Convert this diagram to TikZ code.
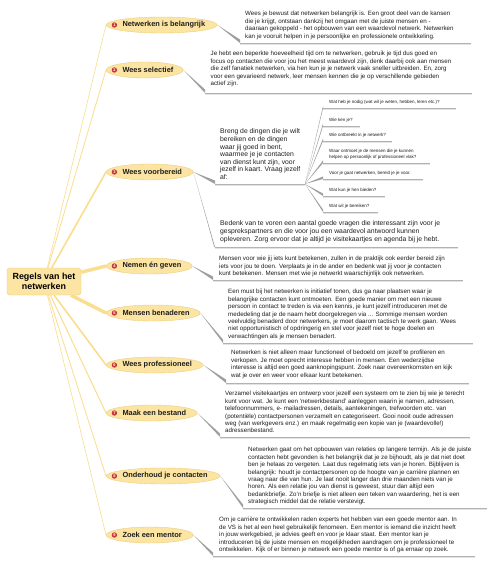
\documentclass[tikz,border=0pt]{standalone}
\usepackage{fontspec}
\setmainfont{Liberation Sans}
\usetikzlibrary{shapes.geometric,positioning}

\definecolor{topicfill}{RGB}{252,229,163}
\definecolor{topicline}{RGB}{238,206,128}
\definecolor{branchcol}{RGB}{250,221,142}
\definecolor{dotred}{RGB}{200,55,55}
\definecolor{inkgray}{RGB}{30,30,30}

\pgfdeclarelayer{background}
\pgfsetlayers{background,main}

\begin{document}
\begin{tikzpicture}[x=1pt, y=1pt,
        rootbox/.style={draw=topicline, fill=topicfill, rounded corners=3pt, align=center, inner sep=0pt,
            minimum width=74pt, minimum height=27pt, font=\fontsize{8.9}{10}\selectfont\bfseries},
        topic/.style={ellipse, draw=topicline, line width=0.4pt, fill=topicfill, minimum height=16pt, inner sep=0pt, anchor=west},
        numdot/.style={circle, fill=dotred, text=white, inner sep=0pt, minimum size=5.4pt, font=\fontsize{4}{4}\selectfont\bfseries},
        topiclabel/.style={inner sep=0pt, text=inkgray, font=\fontsize{7.4}{9}\selectfont\bfseries},
        note/.style={anchor=north west, inner sep=0pt, align=left, text=inkgray, font=\fontsize{6.2}{7.45}\selectfont},
        bignote/.style={note, font=\fontsize{6.8}{7.6}\selectfont},
        smallnote/.style={anchor=south west, inner sep=0pt, align=left, text=inkgray, font=\fontsize{4.5}{6}\selectfont},
        branch/.style={draw=branchcol},
        wedge/.style={fill=gray!75},
        rule/.style={draw=gray!60, line width=0.8pt, preaction={draw=gray!22, line width=1.6pt, transform canvas={yshift=-0.9pt}}}
    ]
        \useasboundingbox (0,0) rectangle (494,-563);

        % centre and main topics
        \node[rootbox] (root) at (44,-281.5) {Regels van het\\netwerken};
        \node[topic, minimum width=111pt] (t1) at (106,-25) {};
        \node[topic, minimum width=77pt] (t2) at (106,-70) {};
        \node[topic, minimum width=87pt] (t3) at (106,-172) {};
        \node[topic, minimum width=86pt] (t4) at (106,-266) {};
        \node[topic, minimum width=94pt] (t5) at (106,-313) {};
        \node[topic, minimum width=97pt] (t6) at (106,-365) {};
        \node[topic, minimum width=91pt] (t7) at (106,-413) {};
        \node[topic, minimum width=114pt] (t8) at (106,-476) {};
        \node[topic, minimum width=87pt] (t9) at (106,-535) {};

        \foreach \i/\txt in {1/Netwerken is belangrijk, 2/Wees selectief, 3/Wees voorbereid,
                4/Nemen én geven, 5/Mensen benaderen, 6/Wees professioneel,
                7/Maak een bestand, 8/Onderhoud je contacten, 9/Zoek een mentor} {
            \node[numdot, right=5.5pt of t\i.west] (n\i) {\i};
            \node[topiclabel, right=5pt of n\i] (l\i) {\txt};
        }

        \begin{pgfonlayer}{background}
            \fill[white] (0,0) rectangle (494,-563);
            \draw[branch, line width=0.6pt] (root) -- (t1.west);
            \draw[branch, line width=0.8pt] (root) -- (t2.west);
            \draw[branch, line width=1.6pt] (root) -- (t3.west);
            \draw[branch, line width=3.4pt] (root) -- (t4.west);
            \draw[branch, line width=3.4pt] (root) -- (t5.west);
            \draw[branch, line width=1.6pt] (root) -- (t6.west);
            \draw[branch, line width=1.0pt] (root) -- (t7.west);
            \draw[branch, line width=0.8pt] (root) -- (t8.west);
            \draw[branch, line width=0.6pt] (root) -- (t9.west);
        \end{pgfonlayer}

        % notes under each topic
        \coordinate (u1) at (240,-43);
        \coordinate (u2) at (205,-93);
        \coordinate (u3) at (215,-184);
        \coordinate (fan) at (305,-184);
        \coordinate (u3b) at (215,-247);
        \coordinate (u4) at (213,-280);
        \coordinate (u5) at (223,-343);
        \coordinate (u6) at (226,-383);
        \coordinate (u7) at (220,-437);
        \coordinate (u8) at (243,-508);
        \coordinate (u9) at (213,-556);

        \fill[wedge] (t1.east) -- ([yshift=3.5pt]u1) -- (u1) -- cycle;
        \fill[wedge] (t2.east) -- ([yshift=3.5pt]u2) -- (u2) -- cycle;
        \fill[wedge] (t3.east) -- ([yshift=3.5pt]u3) -- (u3) -- cycle;
        \fill[wedge] (t3.east) -- ([xshift=-0.8pt]u3b) -- (u3b) -- cycle;
        \fill[wedge] (t4.east) -- ([yshift=3.5pt]u4) -- (u4) -- cycle;
        \fill[wedge] (t5.east) -- ([yshift=3.5pt]u5) -- (u5) -- cycle;
        \fill[wedge] (t6.east) -- ([yshift=3.5pt]u6) -- (u6) -- cycle;
        \fill[wedge] (t7.east) -- ([yshift=3.5pt]u7) -- (u7) -- cycle;
        \fill[wedge] (t8.east) -- ([yshift=3.5pt]u8) -- (u8) -- cycle;
        \fill[wedge] (t9.east) -- ([yshift=3.5pt]u9) -- (u9) -- cycle;

        \draw[rule] (u1) -- (471,-43);
        \draw[rule] (u2) -- (472,-93);
        \draw[rule] (u3) -- (fan);
        \draw[rule] (u3b) -- (458,-247);
        \draw[rule] (u4) -- (463,-280);
        \draw[rule] (u5) -- (473,-343);
        \draw[rule] (u6) -- (469,-383);
        \draw[rule] (u7) -- (470,-437);
        \draw[rule] (u8) -- (487,-508);
        \draw[rule] (u9) -- (475,-556);

        \node[note] (nt1) at (245,-11) {Wees je bewust dat netwerken belangrijk is. Een groot deel van de kansen\\
            die je krijgt, ontstaan dankzij het omgaan met de juiste mensen en -\\
            daaraan gekoppeld - het opbouwen van een waardevol netwerk. Netwerken\\
            kan je vooruit helpen in je persoonlijke en professionele ontwikkeling.};
        \node[note] (nt2) at (210.5,-51) {Je hebt een beperkte hoeveelheid tijd om te netwerken, gebruik je tijd dus goed en\\
            focus op contacten die voor jou het meest waardevol zijn, denk daarbij ook aan mensen\\
            die zelf fanatiek netwerken, via hen kun je je netwerk vaak sneller uitbreiden. En, zorg\\
            voor een gevarieerd netwerk, leer mensen kennen die je op verschillende gebieden\\
            actief zijn.};
        \node[bignote] (nt3) at (220,-128.7) {Breng de dingen die je wilt\\
            bereiken en de dingen\\
            waar jij goed in bent,\\
            waarmee je je contacten\\
            van dienst kunt zijn, voor\\
            jezelf in kaart. Vraag jezelf\\
            af:};
        \node[bignote] (nt3b) at (220,-220.7) {Bedenk van te voren een aantal goede vragen die interessant zijn voor je\\
            gesprekspartners en die voor jou een waardevol antwoord kunnen\\
            opleveren. Zorg ervoor dat je altijd je visitekaartjes en agenda bij je hebt.};
        \node[note] (nt4) at (219,-256) {Mensen voor wie jij iets kunt betekenen, zullen in de praktijk ook eerder bereid zijn\\
            iets voor jou te doen. Verplaats je in de ander en bedenk wat jij voor je contacten\\
            kunt betekenen. Mensen met wie je netwerkt waarschijnlijk ook netwerken.};
        \node[note] (nt5) at (228,-289) {Een must bij het netwerken is initiatief tonen, dus ga naar plaatsen waar je\\
            belangrijke contacten kunt ontmoeten. Een goede manier om met een nieuwe\\
            persoon in contact te treden is via een kennis, je kunt jezelf introduceren met de\\
            mededeling dat je de naam hebt doorgekregen via ... Sommige mensen worden\\
            veelvuldig benaderd door netwerkers, je moet daarom tactisch te werk gaan. Wees\\
            niet opportunistisch of opdringerig en stel voor jezelf niet te hoge doelen en\\
            verwachtingen als je mensen benadert.};
        \node[note] (nt6) at (231,-350) {Netwerken is niet alleen maar functioneel of bedoeld om jezelf te profileren en\\
            verkopen. Je moet oprecht interesse hebben in mensen. Een wederzijdse\\
            interesse is altijd een goed aanknopingspunt. Zoek naar overeenkomsten en kijk\\
            wat je over en weer voor elkaar kunt betekenen.};
        \node[note] (nt7) at (225,-391) {Verzamel visitekaartjes en ontwerp voor jezelf een systeem om te zien bij wie je terecht\\
            kunt voor wat. Je kunt een 'netwerkbestand' aanleggen waarin je namen, adressen,\\
            telefoonnummers, e- mailadressen, details, aantekeningen, trefwoorden etc. van\\
            (potentiële) contactpersonen verzamelt en categoriseert. Gooi nooit oude adressen\\
            weg (van werkgevers enz.) en maak regelmatig een kopie van je (waardevolle!)\\
            adressenbestand.};
        \node[note] (nt8) at (248,-447) {Netwerken gaat om het opbouwen van relaties op langere termijn. Als je de juiste\\
            contacten hebt gevonden is het belangrijk dat je ze bijhoudt, als je dat niet doet\\
            ben je helaas zo vergeten. Laat dus regelmatig iets van je horen. Bijblijven is\\
            belangrijk: houdt je contactpersonen op de hoogte van je carrière plannen en\\
            vraag naar die van hun. Je laat nooit langer dan drie maanden niets van je\\
            horen. Als een relatie jou van dienst is geweest, stuur dan altijd een\\
            bedankbriefje. Zo'n briefje is niet alleen een teken van waardering, het is een\\
            strategisch middel dat de relatie verstevigt.};
        \node[note] (nt9) at (219,-517) {Om je carrière te ontwikkelen raden experts het hebben van een goede mentor aan. In\\
            de VS is het al een heel gebruikelijk fenomeen. Een mentor is iemand die inzicht heeft\\
            in jouw werkgebied, je advies geeft en voor je klaar staat. Een mentor kan je\\
            introduceren bij de juiste mensen en mogelijkheden aandragen om je professioneel te\\
            ontwikkelen. Kijk of er binnen je netwerk een goede mentor is of ga ernaar op zoek.};

        % questions fanning out of "Wees voorbereid"
        \foreach \i/\uy/\ue/\txt in {1/108.5/456/{Wat heb je nodig (wat wil je weten, hebben, leren etc.)?},
                2/126/360/{Wie ken je?},
                3/141/392/{Wie ontbreekt in je netwerk?},
                4/163/430/{Waar ontmoet je de mensen die je kunnen\\helpen op persoonlijk of professioneel vlak?},
                5/179/423/{Voor je gaat netwerken, bereid je je voor.},
                6/196/385/{Wat kun je hen bieden?},
                7/212/378/{Wat wil je bereiken?}} {
            \coordinate (q\i) at (323,-\uy);
            \fill[wedge] (fan) -- ([yshift=2.5pt]q\i) -- (q\i) -- cycle;
            \draw[rule] (q\i) -- (\ue,-\uy);
            \node[smallnote] (qt\i) at (329,-\uy+3.4) {\txt};
        }
    \end{tikzpicture}
\end{document}
